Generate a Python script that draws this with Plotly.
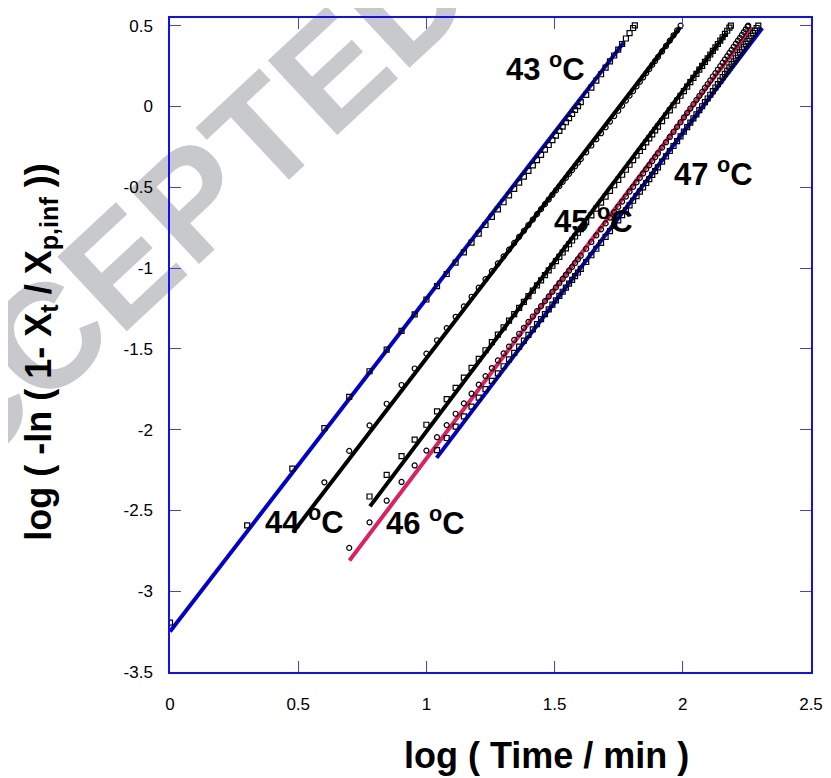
import numpy as np
import plotly.graph_objects as go

# ---------------- data (time in minutes, y = log(-ln(1 - Xt/Xp,inf))) ----------------
t43 = [1,2,3,4,5,6,7,8,9,10,11,12,13,14,15,16,17,18,19,20,21,22,23,24,25,26,27,28,29,30,
       31,32,33,34,35,36,37,38,39,40,42,44,46,48,50,52,54,56,58,60,62,64,65]
y43 = [-3.195,-2.593,-2.241,-1.991,-1.797,-1.639,-1.505,-1.389,-1.287,-1.195,-1.112,-1.037,
       -0.967,-0.903,-0.843,-0.787,-0.734,-0.684,-0.637,-0.593,-0.551,-0.510,-0.472,-0.435,
       -0.399,-0.365,-0.332,-0.300,-0.268,-0.239,-0.209,-0.181,-0.152,-0.125,-0.098,-0.072,
       -0.047,-0.022,0.002,0.026,0.071,0.116,0.159,0.199,0.240,0.278,0.315,0.351,0.386,0.420,
       0.453,0.485,0.501]

t44 = [4,5,6,7,8,9,10,11,12,13,14,15,16,17,18,19,20,21,22,23,24,25,26,27,28,29,30,31,32,33,
       34,35,36,37,38,39,40,42,44,46,48,50,52,54,56,58,60,62,64,66,68,70,72,74,76,78,80,
       83,86,89,92,95,98]
y44 = [-2.326,-2.132,-1.974,-1.840,-1.724,-1.622,-1.530,-1.447,-1.372,-1.302,-1.238,-1.178,
       -1.122,-1.069,-1.019,-0.972,-0.928,-0.886,-0.845,-0.807,-0.770,-0.734,-0.700,-0.667,
       -0.636,-0.605,-0.576,-0.547,-0.520,-0.493,-0.467,-0.442,-0.417,-0.394,-0.370,-0.348,
       -0.326,-0.284,-0.242,-0.203,-0.166,-0.129,-0.094,-0.060,-0.027,0.005,0.036,0.067,
       0.095,0.124,0.152,0.179,0.206,0.231,0.257,0.281,0.305,0.340,0.374,0.407,0.440,0.470,
       0.500]

t45 = [6,7,8,9,10,11,12,13,14,15,16,17,18,19,20,21,22,23,24,25,26,27,28,29,30,31,32,33,34,
       35,36,37,38,39,40,42,44,46,48,50,52,54,56,58,60,62,64,66,68,70,72,74,76,78,80,
       83,86,89,92,95,98,101,104,107,110,113,116,119,122,125,128,131,134,137,140,143,146,
       149,152,154]
y45 = [-2.414,-2.280,-2.164,-2.062,-1.970,-1.887,-1.812,-1.742,-1.678,-1.618,-1.562,-1.509,
       -1.459,-1.412,-1.368,-1.326,-1.285,-1.247,-1.210,-1.174,-1.140,-1.107,-1.076,-1.044,
       -1.015,-0.986,-0.958,-0.931,-0.904,-0.879,-0.853,-0.830,-0.805,-0.782,-0.760,-0.716,
       -0.674,-0.633,-0.596,-0.558,-0.523,-0.488,-0.455,-0.423,-0.392,-0.361,-0.333,-0.304,
       -0.276,-0.250,-0.223,-0.198,-0.173,-0.149,-0.125,-0.091,-0.057,-0.025,0.007,0.036,
       0.066,0.095,0.122,0.150,0.176,0.201,0.227,0.251,0.275,0.298,0.321,0.344,0.365,0.386,
       0.407,0.428,0.449,0.468,0.488,0.500]

t46 = [5,6,7,8,9,10,11,12,13,14,15,16,17,18,19,20,21,22,23,24,25,26,27,28,29,30,31,32,33,
       34,35,36,37,38,39,40,42,44,46,48,50,52,54,56,58,60,62,64,66,68,70,72,74,76,78,80,
       83,86,89,92,95,98,101,104,107,110,113,116,119,122,125,128,131,134,137,140,143,146,
       149,152,155,158,161,164,167,170,173,176,179,180]
y46 = [-2.732,-2.574,-2.440,-2.324,-2.222,-2.130,-2.047,-1.972,-1.902,-1.838,-1.778,-1.722,
       -1.669,-1.619,-1.572,-1.528,-1.486,-1.445,-1.407,-1.370,-1.334,-1.300,-1.267,-1.236,
       -1.205,-1.176,-1.147,-1.120,-1.093,-1.067,-1.042,-1.016,-0.993,-0.969,-0.946,-0.924,
       -0.881,-0.839,-0.798,-0.761,-0.724,-0.688,-0.654,-0.621,-0.589,-0.558,-0.527,-0.498,
       -0.470,-0.442,-0.415,-0.388,-0.364,-0.338,-0.314,-0.290,-0.255,-0.222,-0.189,-0.157,
       -0.127,-0.098,-0.068,-0.040,-0.013,0.014,0.040,0.065,0.090,0.115,0.138,0.161,0.185,
       0.206,0.228,0.249,0.271,0.291,0.311,0.331,0.350,0.369,0.388,0.407,0.424,0.442,0.460,
       0.477,0.494,0.500]

t47 = [11,12,13,14,15,16,17,18,19,20,21,22,23,24,25,26,27,28,29,30,31,32,33,34,35,36,37,38,
       39,40,42,44,46,48,50,52,54,56,58,60,62,64,66,68,70,72,74,76,78,80,
       83,86,89,92,95,98,101,104,107,110,113,116,119,122,125,128,131,134,137,140,143,146,
       149,152,155,158,161,164,167,170,173,176,179,182,185,188,191,194,197]
y47 = [-2.127,-2.052,-1.982,-1.918,-1.858,-1.802,-1.749,-1.699,-1.652,-1.608,-1.566,-1.525,
       -1.487,-1.450,-1.414,-1.380,-1.347,-1.316,-1.285,-1.256,-1.227,-1.200,-1.173,-1.147,
       -1.122,-1.097,-1.074,-1.050,-1.028,-1.005,-0.963,-0.921,-0.881,-0.844,-0.807,-0.772,
       -0.738,-0.705,-0.673,-0.643,-0.612,-0.584,-0.555,-0.528,-0.501,-0.474,-0.450,-0.424,
       -0.400,-0.377,-0.342,-0.309,-0.276,-0.245,-0.215,-0.186,-0.156,-0.128,-0.101,-0.074,
       -0.049,-0.023,0.001,0.026,0.049,0.072,0.095,0.117,0.138,0.160,0.181,0.201,0.221,0.241,
       0.261,0.279,0.298,0.317,0.334,0.352,0.369,0.387,0.404,0.420,0.436,0.453,0.469,0.485,
       0.500]

# linear Avrami fits (end points)
fit43_x = [0.0, 1.77];  fit43_y = [-3.25, 0.396]
fit44_x = [0.48, 1.99]; fit44_y = [-2.635, 0.49]
fit45_x = [0.78, 2.17]; fit45_y = [-2.475, 0.455]
fit46_x = [0.70, 2.27]; fit46_y = [-2.81, 0.49]
fit47_x = [1.04, 2.31]; fit47_y = [-2.175, 0.485]

temp_labels = ["43", "44", "45", "46", "47"]
label_x = [1.466, 0.526, 1.653, 0.996, 2.119]
label_y = [0.244, -2.561, -0.699, -2.567, -0.403]

x_ticks = [0, 0.5, 1, 1.5, 2, 2.5]
x_ticktext = ["0", "0.5", "1", "1.5", "2", "2.5"]
y_ticks = [-3.5, -3, -2.5, -2, -1.5, -1, -0.5, 0, 0.5]
y_ticktext = ["-3.5", "-3", "-2.5", "-2", "-1.5", "-1", "-0.5", "0", "0.5"]

BLUE = "#0000CC"
CRIMSON = "#DD2060"
FONT = "Liberation Sans, Arial, Helvetica, sans-serif"

fig = go.Figure()

# fit lines first (markers drawn on top)
for fx, fy, col in [(fit43_x, fit43_y, BLUE), (fit44_x, fit44_y, "black"),
                    (fit45_x, fit45_y, "black"), (fit46_x, fit46_y, CRIMSON),
                    (fit47_x, fit47_y, BLUE)]:
    fig.add_trace(go.Scatter(x=fx, y=fy, mode="lines",
                             line=dict(color=col, width=4), showlegend=False,
                             hoverinfo="skip"))

for t, y, sym in [(t43, y43, "square-open"), (t44, y44, "circle-open"),
                  (t45, y45, "square-open"), (t46, y46, "circle-open"),
                  (t47, y47, "square-open")]:
    fig.add_trace(go.Scatter(x=np.log10(np.array(t, dtype=float)), y=y, mode="markers",
                             marker=dict(symbol=sym, size=5, color="black",
                                         line=dict(color="black", width=1.2)),
                             showlegend=False))

annotations = []
for lab, lx, ly in zip(temp_labels, label_x, label_y):
    annotations.append(dict(x=lx, y=ly, xref="x", yref="y", showarrow=False,
                            text="<b>%s <sup>o</sup>C</b>" % lab,
                            font=dict(family=FONT, size=31, color="black"),
                            xanchor="center", yanchor="middle"))

annotations.append(dict(x=0.587, y=-0.127, xref="paper", yref="paper", showarrow=False,
                        text="<b>log ( Time / min )</b>",
                        font=dict(family=FONT, size=36, color="black"),
                        xanchor="center", yanchor="middle"))
annotations.append(dict(x=-0.2025, y=0.49, xref="paper", yref="paper", showarrow=False,
                        text="<b>log ( -ln ( 1- X<sub>t</sub> / X<sub>p,inf</sub> ))</b>",
                        font=dict(family=FONT, size=36, color="black"),
                        textangle=-90, xanchor="center", yanchor="middle"))

# page body has an 8px margin: figure is 823x770, plot area at page x 170-812, y 16-672
fig.update_layout(
    width=823, height=770,
    margin=dict(l=162, r=19, t=8, b=106),
    paper_bgcolor="white", plot_bgcolor="rgba(0,0,0,0)",
    annotations=annotations,
    shapes=[dict(type="rect", xref="paper", yref="paper",
                 x0=-0.250, x1=0.150, y0=0.474, y1=0.874,
                 line=dict(width=0), fillcolor="rgba(0,0,0,0)", layer="below",
                 label=dict(text="<b>ACCEPTED</b>", textangle=-43,
                            textposition="middle center",
                            font=dict(family=FONT, size=148, color="#C8C9CC")))],
)

axis_common = dict(showgrid=False, zeroline=False, showline=True, linecolor="#1010F0",
                   linewidth=1.5, mirror="ticks", ticks="inside", ticklen=11,
                   tickcolor="#4040F0", tickwidth=1,
                   tickfont=dict(family=FONT, size=17, color="black"))
fig.update_xaxes(range=[0, 2.5], tickvals=x_ticks, ticktext=x_ticktext,
                 ticklabelstandoff=16, **axis_common)
fig.update_yaxes(range=[-3.5, 0.547], tickvals=y_ticks, ticktext=y_ticktext,
                 ticklabelstandoff=12, **axis_common)

fig.write_html("out.html")
